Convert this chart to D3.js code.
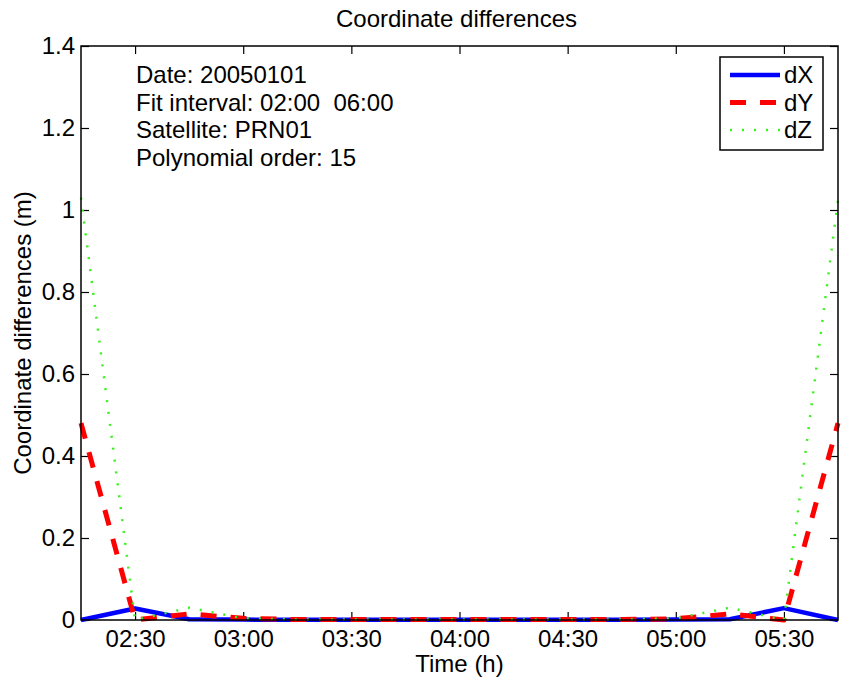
<!DOCTYPE html>
<html>
<head>
<meta charset="utf-8">
<script src="https://cdn.jsdelivr.net/npm/d3@7"></script>
<style>
  body { margin: 0; background: #fff; }
  svg text { font-family: "Liberation Sans", Arial, Helvetica, sans-serif; fill: #000; }
</style>
</head>
<body>
<div class="chart-wrapper"></div>
<script>
// epochs (15 min steps) and coordinate differences in metres
const times = ["02:15", "02:30", "02:45", "03:00", "03:15", "03:30", "03:45", "04:00",
               "04:15", "04:30", "04:45", "05:00", "05:15", "05:30", "05:45"];
const dX = [0.000, 0.028, 0.002, 0.001, 0.0005, 0.0005, 0.0005, 0.0005,
            0.0005, 0.0005, 0.0005, 0.001, 0.002, 0.029, 0.000];
const dY = [0.480, 0.000, 0.015, 0.004, 0.001, 0.001, 0.001, 0.001,
            0.001, 0.001, 0.001, 0.003, 0.015, 0.000, 0.480];
const dZ = [1.030, 0.000, 0.030, 0.004, 0.001, 0.001, 0.001, 0.001,
            0.001, 0.001, 0.001, 0.004, 0.030, 0.000, 1.025];
const xTicks = ["02:30", "03:00", "03:30", "04:00", "04:30", "05:00", "05:30"];
const yTicks = [0, 0.2, 0.4, 0.6, 0.8, 1, 1.2, 1.4];
const infoLines = ["Date: 20050101", "Fit interval: 02:00  06:00", "Satellite: PRN01", "Polynomial order: 15"];

const series = [
    { name: "dX", values: dX, color: "#0000ff", width: 4.5, dash: null },
    { name: "dY", values: dY, color: "#ff0000", width: 5, dash: "16,14" },
    { name: "dZ", values: dZ, color: "#3cf020", width: 2.5, dash: "2,10" }
];

const W = 846, H = 679;
const margin = { left: 81, right: 8, top: 46, bottom: 59 };
const toMin = s => { const [h, m] = s.split(":"); return +h * 60 + +m; };
const fmt = d => d3.format(".1~f")(d);

const svg = d3.select(".chart-wrapper").append("svg")
    .attr("width", W).attr("height", H);

const x = d3.scaleLinear()
    .domain([toMin(times[0]), toMin(times[times.length - 1])])
    .range([margin.left, W - margin.right]);
const y = d3.scaleLinear()
    .domain([0, 1.4])
    .range([H - margin.bottom, margin.top]);

const fs = 24;
const tickLen = 8;

// axes (ticks inward, mirrored on top / right)
const xb = svg.append("g").attr("transform", `translate(0,${y(0)})`)
    .call(d3.axisBottom(x).tickValues(xTicks.map(toMin)).tickFormat((d, i) => xTicks[i])
        .tickSizeInner(-tickLen).tickSizeOuter(0).tickPadding(10));
const xt = svg.append("g").attr("transform", `translate(0,${y(1.4)})`)
    .call(d3.axisTop(x).tickValues(xTicks.map(toMin)).tickFormat("")
        .tickSizeInner(-tickLen).tickSizeOuter(0));
const yl = svg.append("g").attr("transform", `translate(${x.range()[0]},0)`)
    .call(d3.axisLeft(y).tickValues(yTicks).tickFormat(fmt)
        .tickSizeInner(-tickLen).tickSizeOuter(0).tickPadding(6));
const yr = svg.append("g").attr("transform", `translate(${x.range()[1]},0)`)
    .call(d3.axisRight(y).tickValues(yTicks).tickFormat("")
        .tickSizeInner(-tickLen).tickSizeOuter(0));

[xb, xt, yl, yr].forEach(g => {
    g.select(".domain").remove();
    g.selectAll("line").attr("stroke", "#000").attr("stroke-width", 1.2);
    g.selectAll("text").attr("font-size", fs).attr("font-family", null);
});

// lines
const line = vals => d3.line()
    .x((d, i) => x(toMin(times[i])))
    .y(d => y(d))(vals);

svg.append("g").selectAll("path")
    .data(series)
    .enter()
    .append("path")
    .attr("d", d => line(d.values))
    .attr("fill", "none")
    .attr("stroke", d => d.color)
    .attr("stroke-width", d => d.width)
    .attr("stroke-dasharray", d => d.dash)
    .attr("stroke-linejoin", "round");

// plot box
svg.append("rect")
    .attr("x", x.range()[0]).attr("y", y(1.4))
    .attr("width", x.range()[1] - x.range()[0])
    .attr("height", y(0) - y(1.4))
    .attr("fill", "none").attr("stroke", "#000").attr("stroke-width", 1.5);

// title and labels
svg.append("text").attr("x", (x.range()[0] + x.range()[1]) / 2 - 3).attr("y", 27)
    .attr("text-anchor", "middle").attr("font-size", fs).text("Coordinate differences");
svg.append("text").attr("x", (x.range()[0] + x.range()[1]) / 2).attr("y", 672)
    .attr("text-anchor", "middle").attr("font-size", fs).text("Time (h)");
svg.append("text")
    .attr("transform", `translate(31,${(y(0) + y(1.4)) / 2}) rotate(-90)`)
    .attr("text-anchor", "middle").attr("font-size", fs).text("Coordinate differences (m)");

// info text block
svg.append("g").selectAll("text")
    .data(infoLines)
    .enter()
    .append("text")
    .attr("x", 136)
    .attr("y", (d, i) => 83 + i * 27.5)
    .attr("font-size", fs)
    .attr("xml:space", "preserve")
    .style("white-space", "pre")
    .text(d => d);

// legend
const leg = svg.append("g");
leg.append("rect").attr("x", 720).attr("y", 57).attr("width", 103).attr("height", 93)
    .attr("fill", "#fff").attr("stroke", "#000").attr("stroke-width", 1.5);
const rows = leg.selectAll("g.row")
    .data(series)
    .enter()
    .append("g")
    .attr("class", "row")
    .attr("transform", (d, i) => `translate(0,${75 + i * 27.5})`);
rows.append("line")
    .attr("x1", 730).attr("x2", 780)
    .attr("stroke", d => d.color)
    .attr("stroke-width", d => d.width)
    .attr("stroke-dasharray", d => d.dash);
rows.append("text").attr("x", 784).attr("y", 8).attr("font-size", fs).text(d => d.name);
</script>
</body>
</html>
